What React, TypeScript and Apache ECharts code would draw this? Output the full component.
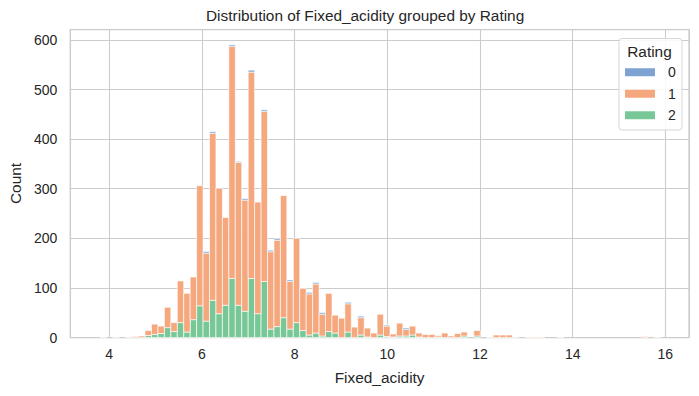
import React, { useEffect, useRef } from "react";
import * as echarts from "echarts";

// Histogram bins (seaborn auto bins): left edge of first bin and bin width
const BIN_START = 3.8;
const BIN_WIDTH = 0.13908;

// Counts per bin, Rating 2 (bottom, green)
const rating2 = [
  0, 0, 0, 0, 0, 0, 0, 4, 6, 8,
  20, 12, 30, 11, 36, 64, 33, 75, 48, 65,
  119, 65, 53, 119, 48, 113, 17, 22, 40, 17,
  30, 14, 5, 9, 3, 12, 9, 0, 11, 0,
  5, 1, 0, 5, 2, 1, 3, 3, 5, 1,
  0, 0, 1, 0, 0, 0, 3, 0, 3, 0,
  0, 0, 0, 0, 0, 0, 0, 0, 0, 0,
  0, 0, 0, 0, 0, 0, 0, 0, 0, 0,
  0, 0, 0, 0, 0, 0, 0,
];

// Counts per bin, Rating 1 (middle, orange)
const rating1 = [
  1, 0, 1, 0, 1, 2, 3, 10, 21, 15,
  41, 18, 84, 78, 86, 242, 137, 337, 253, 177,
  468, 288, 224, 416, 225, 343, 156, 174, 246, 96,
  170, 85, 83, 99, 44, 77, 36, 39, 57, 21,
  35, 18, 9, 42, 21, 6, 26, 13, 18, 8,
  6, 6, 3, 9, 3, 8, 8, 0, 11, 0,
  1, 5, 5, 5, 1, 0, 1, 1, 1, 0,
  0, 1, 0, 0, 0, 0, 0, 0, 0, 0,
  0, 0, 0, 0, 2, 0, 1,
];

// Counts per bin, Rating 0 (top, blue)
const rating0 = [
  0, 0, 0, 0, 0, 0, 0, 0, 0, 0,
  0, 0, 0, 0, 0, 0, 3, 3, 0, 0,
  3, 2, 3, 4, 0, 3, 3, 3, 0, 3,
  0, 0, 3, 3, 3, 0, 0, 0, 3, 0,
  3, 0, 0, 0, 2, 0, 0, 3, 0, 0,
  0, 0, 0, 0, 0, 0, 0, 0, 0, 0,
  0, 0, 0, 0, 0, 0, 0, 0, 0, 0,
  0, 0, 0, 0, 0, 0, 0, 0, 0, 0,
  0, 0, 0, 0, 0, 0, 0,
];

const seriesNames = ["0", "1", "2"];
const colors: Record<string, string> = {
  "0": "#7ea3d3",
  "1": "#f5a77e",
  "2": "#78c897",
};

const FONT = '"Liberation Sans", Arial, Helvetica, sans-serif';
const TEXT = "#262626";

function buildStack(counts: number[], below: number[]) {
  const items: number[][] = [];
  counts.forEach((c, i) => {
    if (c > 0) {
      const x0 = BIN_START + i * BIN_WIDTH;
      const x1 = x0 + BIN_WIDTH;
      items.push([x0, x1, below[i], below[i] + c]);
    }
  });
  return items;
}

export default function App() {
  const ref = useRef<HTMLDivElement>(null);

  useEffect(() => {
    if (!ref.current) return;
    const chart = echarts.init(ref.current, undefined, { renderer: "svg" });

    const zeros = rating2.map(() => 0);
    const base1 = rating2.map((v) => v);
    const base0 = rating2.map((v, i) => v + rating1[i]);

    const makeSeries = (name: string, data: number[][]) => ({
      name,
      type: "custom",
      itemStyle: { color: colors[name] },
      encode: { x: [0, 1], y: [2, 3] },
      data,
      renderItem: (params: any, api: any) => {
        const x0 = api.value(0);
        const x1 = api.value(1);
        const b = api.value(2);
        const t = api.value(3);
        const p0 = api.coord([x0, t]);
        const p1 = api.coord([x1, b]);
        return {
          type: "rect",
          shape: {
            x: p0[0],
            y: p0[1],
            width: p1[0] - p0[0],
            height: p1[1] - p0[1],
          },
          style: {
            fill: colors[name],
            stroke: "rgba(255,255,255,0.8)",
            lineWidth: 0.8,
          },
        };
      },
    });

    const option: any = {
      animation: false,
      backgroundColor: "#ffffff",
      textStyle: { fontFamily: FONT },
      title: {
        text: "Distribution of Fixed_acidity grouped by Rating",
        left: 206,
        top: 8,
        padding: 0,
        textStyle: {
          fontSize: 15.4,
          fontWeight: "normal",
          color: TEXT,
          fontFamily: FONT,
        },
      },
      grid: {
        left: 68,
        right: 10,
        top: 29.5,
        bottom: 58.5,
        show: true,
        borderColor: "#cccccc",
        borderWidth: 1.25,
        backgroundColor: "#ffffff",
      },
      xAxis: {
        type: "value",
        min: 3.16,
        max: 16.51,
        splitNumber: 6,
        name: "Fixed_acidity",
        nameLocation: "middle",
        nameGap: 32,
        nameTextStyle: { fontSize: 15.4, color: TEXT, fontFamily: FONT },
        axisLine: { show: false },
        axisTick: { show: false },
        axisLabel: {
          showMinLabel: false,
          showMaxLabel: false,
          margin: 9,
          fontSize: 14,
          color: TEXT,
          fontFamily: FONT,
        },
        splitLine: { show: true, lineStyle: { color: "#cccccc", width: 1.1 } },
      },
      yAxis: {
        type: "value",
        min: 0,
        max: 621,
        interval: 100,
        name: "Count",
        nameLocation: "middle",
        nameGap: 44,
        nameRotate: 90,
        nameTextStyle: { fontSize: 15.4, color: TEXT, fontFamily: FONT },
        axisLine: { show: false },
        axisTick: { show: false },
        axisLabel: {
          showMaxLabel: false,
          margin: 13,
          fontSize: 14,
          color: TEXT,
          fontFamily: FONT,
        },
        splitLine: { show: true, lineStyle: { color: "#cccccc", width: 1.1 } },
      },
      legend: {
        data: seriesNames,
        orient: "vertical",
        left: 625,
        top: 65,
        padding: 0,
        itemWidth: 30,
        itemHeight: 8,
        itemGap: 7,
        icon: "rect",
        selectedMode: false,
        z: 10,
        textStyle: {
          fontSize: 14,
          color: TEXT,
          fontFamily: FONT,
          lineHeight: 14.5,
          padding: [0, 0, 0, 8],
        },
      },
      graphic: [
        {
          type: "rect",
          z: 5,
          shape: { x: 619, y: 38.5, width: 63, height: 91.5, r: 3 },
          style: { fill: "rgba(255,255,255,0.85)", stroke: "#d6d6d6", lineWidth: 1 },
        },
        {
          type: "text",
          z: 6,
          x: 649.5,
          y: 51.5,
          style: {
            text: "Rating",
            fill: TEXT,
            font: `15.4px ${FONT}`,
            textAlign: "center",
            textVerticalAlign: "middle",
          },
        },
      ],
      series: [
        makeSeries("2", buildStack(rating2, zeros)),
        makeSeries("1", buildStack(rating1, base1)),
        makeSeries("0", buildStack(rating0, base0)),
      ],
    };

    chart.setOption(option);
    return () => chart.dispose();
  }, []);

  return (
    <div
      ref={ref}
      style={{ position: "fixed", left: 0, top: 0, width: 699, height: 396, background: "#fff" }}
    />
  );
}
